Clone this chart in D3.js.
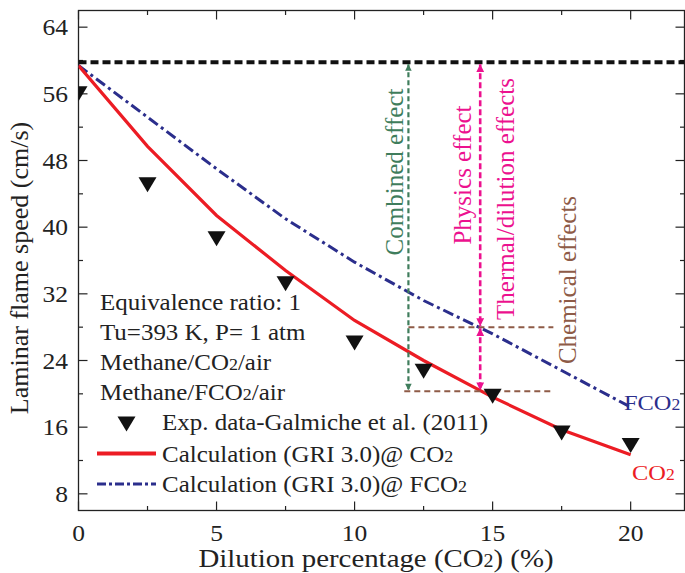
<!DOCTYPE html>
<html>
<head>
<meta charset="utf-8">
<script src="https://cdn.jsdelivr.net/npm/d3@7"></script>
<style>
  body { margin: 0; background: #fff; }
  svg text { font-family: 'Liberation Serif', 'DejaVu Serif', serif; fill: #222; }
</style>
</head>
<body>
<script>
// data
var dilution = [0, 2.5, 5, 7.5, 10, 12.5, 15, 17.5, 20];
var expSpeed = [56.0, 45.1, 38.6, 33.2, 26.1, 22.7, 19.7, 15.3, 13.8];
var griCO2 = [59.4, 49.7, 41.4, 34.8, 28.8, 24.0, 19.6, 15.7, 12.7];
var griFCO2 = [59.4, 53.2, 47.0, 41.0, 35.8, 31.2, 27.2, 22.8, 18.4];
var xTicks = [0, 5, 10, 15, 20];
var yTicks = [8, 16, 24, 32, 40, 48, 56, 64];
var legendLines = ['Equivalence ratio: 1', 'Tu=393 K, P= 1 atm'];

// annotation levels
var refSpeed = 59.8;
var chemLevels = [28.0, 20.3];
var chemSpan = [[11.95, 17.2], [11.8, 17.15]];
var combinedX = 11.95;
var physicsX = 14.55;

var W = 685, H = 573;
var SX = 1.11; // the original text is a bit wider than Times
var svg = d3.select('body').append('svg')
    .attr('width', W).attr('height', H)
    .attr('font-family', "'Liberation Serif', 'DejaVu Serif', serif");

var x = d3.scaleLinear().domain([0, 21.95]).range([78.5, 684.5]);
var y = d3.scaleLinear().domain([6, 66]).range([510.5, 10.5]);

var red = '#ec1c24', blue = '#2b2e8c', green = '#3f7d5c',
    pink = '#ec118f', brown = '#8e5b47', ink = '#222';

var defs = svg.append('defs');
defs.append('clipPath').attr('id', 'plot')
    .append('rect')
    .attr('x', x(0)).attr('y', y(66))
    .attr('width', x(21.95) - x(0)).attr('height', y(6) - y(66));

function arrowMarker(id, color) {
    defs.append('marker').attr('id', id)
        .attr('viewBox', '0 0 10 10')
        .attr('refX', 10).attr('refY', 5)
        .attr('markerWidth', 4).attr('markerHeight', 3)
        .attr('markerUnits', 'strokeWidth')
        .attr('orient', 'auto-start-reverse')
        .append('path').attr('d', 'M0,0L10,5L0,10Z').attr('fill', color);
}
arrowMarker('arrG', green);
arrowMarker('arrP', pink);

// horizontal text, widened a little
function hText(parent, tx, ty, size, anchor) {
    return parent.append('text')
        .attr('transform', 'translate(' + tx + ',' + ty + ') scale(' + SX + ',1)')
        .attr('text-anchor', anchor || 'start')
        .attr('font-size', size);
}

// axes frame
var frame = svg.append('g');
frame.append('rect')
    .attr('x', x(0)).attr('y', y(66))
    .attr('width', x(21.95) - x(0)).attr('height', y(6) - y(66))
    .attr('fill', 'none').attr('stroke', ink).attr('stroke-width', 1.3);

var xAll = d3.range(0, 21.9, 2.5);
var yAll = d3.range(8, 66, 4);

frame.selectAll('.xt').data(xAll).enter().append('line')
    .attr('x1', function(d) { return x(d); })
    .attr('x2', function(d) { return x(d); })
    .attr('y1', y(6))
    .attr('y2', function(d) { return y(6) - (d % 5 == 0 ? 9 : 4.5); })
    .attr('stroke', ink).attr('stroke-width', 1.2);
frame.selectAll('.xt2').data(xAll).enter().append('line')
    .attr('x1', function(d) { return x(d); })
    .attr('x2', function(d) { return x(d); })
    .attr('y1', y(66))
    .attr('y2', function(d) { return y(66) + (d % 5 == 0 ? 9 : 4.5); })
    .attr('stroke', ink).attr('stroke-width', 1.2);
frame.selectAll('.yt').data(yAll).enter().append('line')
    .attr('x1', x(0))
    .attr('x2', function(d) { return x(0) + (d % 8 == 0 ? 9 : 4.5); })
    .attr('y1', function(d) { return y(d); })
    .attr('y2', function(d) { return y(d); })
    .attr('stroke', ink).attr('stroke-width', 1.2);
frame.selectAll('.yt2').data(yAll).enter().append('line')
    .attr('x1', x(21.95))
    .attr('x2', function(d) { return x(21.95) - (d % 8 == 0 ? 9 : 4.5); })
    .attr('y1', function(d) { return y(d); })
    .attr('y2', function(d) { return y(d); })
    .attr('stroke', ink).attr('stroke-width', 1.2);

xTicks.forEach(function(d) {
    hText(frame, x(d), 541, 23, 'middle').text(d);
});
yTicks.forEach(function(d) {
    hText(frame, 68, y(d) + 8, 23, 'end').text(d);
});

var xTitle = hText(svg, 376, 567, 26, 'middle');
xTitle.append('tspan').text('Dilution percentage (CO');
xTitle.append('tspan').attr('font-size', 18).text('2');
xTitle.append('tspan').text(') (%)');

svg.append('text')
    .attr('transform', 'translate(28,268) rotate(-90)')
    .attr('text-anchor', 'middle')
    .attr('font-size', 26)
    .text('Laminar flame speed (cm/s)');

// plot content
var plot = svg.append('g').attr('clip-path', 'url(#plot)');

plot.append('line')
    .attr('x1', x(0)).attr('x2', x(21.95))
    .attr('y1', y(refSpeed)).attr('y2', y(refSpeed))
    .attr('stroke', '#111').attr('stroke-width', 4)
    .attr('stroke-dasharray', '8,4');

var line = d3.line()
    .x(function(d) { return x(d[0]); })
    .y(function(d) { return y(d[1]); });

plot.append('path')
    .datum(d3.zip(dilution, griFCO2))
    .attr('d', line)
    .attr('fill', 'none').attr('stroke', blue).attr('stroke-width', 3)
    .attr('stroke-dasharray', '11,4,3,4');

plot.append('path')
    .datum(d3.zip(dilution, griCO2))
    .attr('d', line)
    .attr('fill', 'none').attr('stroke', red).attr('stroke-width', 3.2);

// effect annotations
plot.selectAll('.chem').data(chemLevels).enter().append('line')
    .attr('x1', function(d, i) { return x(chemSpan[i][0]); })
    .attr('x2', function(d, i) { return x(chemSpan[i][1]); })
    .attr('y1', function(d) { return y(d); })
    .attr('y2', function(d) { return y(d); })
    .attr('stroke', brown).attr('stroke-width', 2)
    .attr('stroke-dasharray', '6,4');

plot.append('line')
    .attr('x1', x(combinedX)).attr('x2', x(combinedX))
    .attr('y1', y(refSpeed) + 2).attr('y2', y(chemLevels[1]) - 1)
    .attr('stroke', green).attr('stroke-width', 2.2)
    .attr('stroke-dasharray', '5,3')
    .attr('marker-start', 'url(#arrG)').attr('marker-end', 'url(#arrG)');

plot.append('line')
    .attr('x1', x(physicsX)).attr('x2', x(physicsX))
    .attr('y1', y(refSpeed) + 2).attr('y2', y(chemLevels[0]) - 1)
    .attr('stroke', pink).attr('stroke-width', 2.6)
    .attr('stroke-dasharray', '6,3')
    .attr('marker-start', 'url(#arrP)').attr('marker-end', 'url(#arrP)');
plot.append('line')
    .attr('x1', x(physicsX)).attr('x2', x(physicsX))
    .attr('y1', y(chemLevels[0]) + 1).attr('y2', y(chemLevels[1]) - 1)
    .attr('stroke', pink).attr('stroke-width', 2.6)
    .attr('stroke-dasharray', '6,3')
    .attr('marker-start', 'url(#arrP)').attr('marker-end', 'url(#arrP)');

// experimental points
function tri(cx, cy) {
    return 'M' + (cx - 9) + ',' + (cy - 7.5) + 'L' + (cx + 9) + ',' + (cy - 7.5) +
        'L' + cx + ',' + (cy + 7.5) + 'Z';
}
plot.selectAll('.exp').data(d3.zip(dilution, expSpeed)).enter().append('path')
    .attr('d', function(d) { return tri(x(d[0]), y(d[1])); })
    .attr('fill', '#111');

function vText(cx, cy, color, str) {
    svg.append('text')
        .attr('transform', 'translate(' + cx + ',' + cy + ') rotate(-90)')
        .attr('text-anchor', 'middle')
        .attr('dy', '0.35em')
        .attr('font-size', 25)
        .style('fill', color)
        .text(str);
}
vText(394, 172, green, 'Combined effect');
vText(462, 175, pink, 'Physics effect');
vText(505, 199, pink, 'Thermal/dilution effects');
vText(567, 280, brown, 'Chemical effects');

function subText(tx, ty, color, main, after, size) {
    var t = hText(svg, tx, ty, size).style('fill', color);
    t.append('tspan').text(main);
    t.append('tspan').attr('font-size', size * 0.72).text('2');
    if (after) t.append('tspan').text(after);
    return t;
}
subText(624, 410, blue, 'FCO', '', 22);
subText(632, 480, red, 'CO', '', 22);

// text block and legend
var legendSize = 22.5;
legendLines.forEach(function(d, i) {
    hText(svg, 100, 310 + i * 30, legendSize).text(d);
});
subText(100, 370, ink, 'Methane/CO', '/air', legendSize);
subText(100, 400, ink, 'Methane/FCO', '/air', legendSize);

svg.append('path').attr('d', tri(126.5, 424)).attr('fill', '#111');
hText(svg, 162, 430, legendSize).text('Exp. data-Galmiche et al. (2011)');

svg.append('line')
    .attr('x1', 97).attr('x2', 156).attr('y1', 453.5).attr('y2', 453.5)
    .attr('stroke', red).attr('stroke-width', 4);
subText(162, 461.5, ink, 'Calculation (GRI 3.0)@ CO', '', legendSize);

svg.append('line')
    .attr('x1', 97).attr('x2', 156).attr('y1', 484).attr('y2', 484)
    .attr('stroke', blue).attr('stroke-width', 3)
    .attr('stroke-dasharray', '9,3,3,3');
subText(162, 491.5, ink, 'Calculation (GRI 3.0)@ FCO', '', legendSize);
</script>
</body>
</html>
